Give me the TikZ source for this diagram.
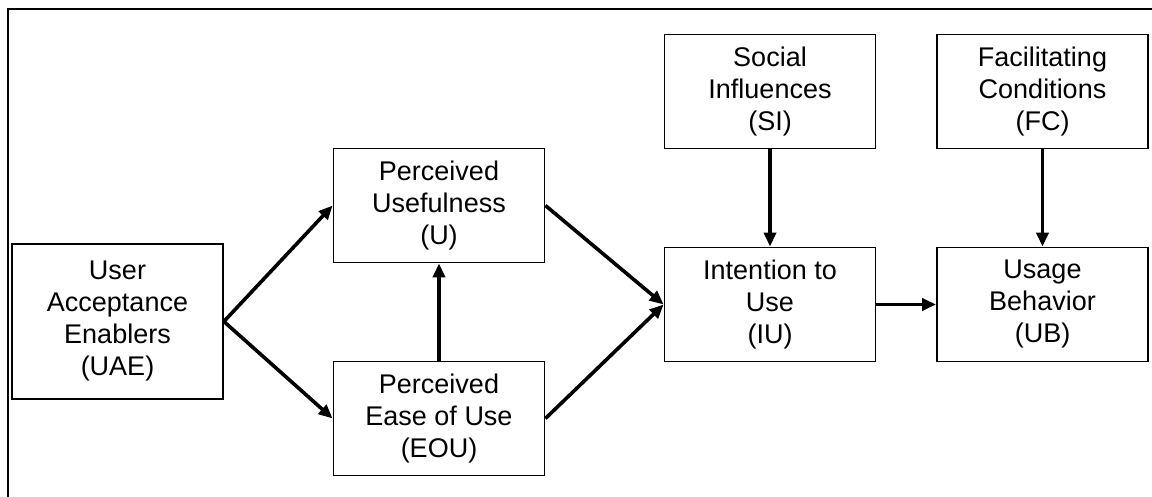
\documentclass[tikz,border=0pt]{standalone}
\usepackage{fontspec}
\setmainfont{Liberation Sans}
\usetikzlibrary{arrows.meta,positioning}

\tikzset{
  box/.style={draw, line width=0.9pt, align=center, inner sep=0pt,
    minimum width=105.5pt, minimum height=57pt,
    font=\fontsize{13.5}{16}\selectfont},
  link/.style={line width=1.8pt, -{Triangle[length=7pt,width=6pt]}}
}

\begin{document}
\begin{tikzpicture}[x=0.5pt,y=-0.5pt]
			\useasboundingbox (0,0) rectangle (1152,497);
			\draw[line width=1pt] (8,497) -- (8,9) -- (1152,9);
			\node[box, minimum height=77.5pt] (uae) at (117.5,321.5) {User\\Acceptance\\Enablers\\(UAE)};
			\node[box] (u) at (439,205.5) {Perceived\\Usefulness\\(U)};
			\node[box] (eou) at (439,418.5) {Perceived\\Ease of Use\\(EOU)};
			\node[box] (si) at (770,91.5) {Social\\Influences\\(SI)};
			\node[box] (iu) at (770,304.5) {Intention to\\Use\\(IU)};
			\node[box] (fc) at (1042.5,91.5) {Facilitating\\Conditions\\(FC)};
			\node[box] (ub) at (1042.5,304.5) {Usage\\Behavior\\(UB)};
			\path[link]
			(uae.east) edge (u.west)
			(uae.east) edge (eou.west)
			(eou) edge (u)
			(u.east) edge (iu.west)
			(eou.east) edge (iu.west)
			(si) edge (iu)
			(fc) edge (ub)
			(iu.east) edge (ub.west);
		\end{tikzpicture}
\end{document}
